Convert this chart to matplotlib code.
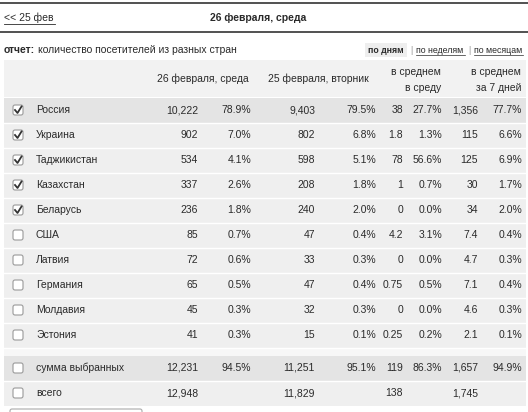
import matplotlib
matplotlib.use("Agg")
import matplotlib.pyplot as plt
from matplotlib.patches import Rectangle, FancyBboxPatch

plt.rcParams['font.family'] = ['Liberation Sans', 'DejaVu Sans']

countries = ["Россия", "Украина", "Таджикистан", "Казахстан", "Беларусь", "США", "Латвия", "Германия", "Молдавия", "Эстония"]
checked = [True, True, True, True, True, False, False, False, False, False]
feb26 = ["10,222", "902", "534", "337", "236", "85", "72", "65", "45", "41"]
feb26_pct = ["78.9%", "7.0%", "4.1%", "2.6%", "1.8%", "0.7%", "0.6%", "0.5%", "0.3%", "0.3%"]
feb25 = ["9,403", "802", "598", "208", "240", "47", "33", "47", "32", "15"]
feb25_pct = ["79.5%", "6.8%", "5.1%", "1.8%", "2.0%", "0.4%", "0.3%", "0.4%", "0.3%", "0.1%"]
avg_wed = ["38", "1.8", "78", "1", "0", "4.2", "0", "0.75", "0", "0.25"]
avg_wed_pct = ["27.7%", "1.3%", "56.6%", "0.7%", "0.0%", "3.1%", "0.0%", "0.5%", "0.0%", "0.2%"]
avg7 = ["1,356", "115", "125", "30", "34", "7.4", "4.7", "7.1", "4.6", "2.1"]
avg7_pct = ["77.7%", "6.6%", "6.9%", "1.7%", "2.0%", "0.4%", "0.3%", "0.4%", "0.3%", "0.1%"]
sum_row = ["сумма выбранных", "12,231", "94.5%", "11,251", "95.1%", "119", "86.3%", "1,657", "94.9%"]
total_row = ["всего", "12,948", "", "11,829", "", "138", "", "1,745", ""]

W, H = 528, 412
fig = plt.figure(figsize=(W/100, H/100), dpi=100)
ax = fig.add_axes([0, 0, 1, 1])
ax.set_xlim(0, W); ax.set_ylim(H, 0); ax.axis('off')

fs = 7.5
tc = '#2a2a2a'
ax.plot([0, W], [3, 3], color='#333333', lw=1.2)
ax.plot([0, W], [32, 32], color='#333333', lw=1.2)
ax.text(4, 18, "<< 25 фев", fontsize=fs, color=tc, va='center')
ax.plot([4, 55], [23.5, 23.5], color=tc, lw=0.6)
ax.text(258, 18, "26 февраля, среда", fontsize=fs, color=tc, va='center', ha='center', fontweight='bold')
ax.text(4, 50, "отчет:", fontsize=fs, color=tc, va='center', fontweight='bold')
ax.text(38, 50, "количество посетителей из разных стран", fontsize=fs, color=tc, va='center')
ax.add_patch(Rectangle((365, 43), 42, 14, color='#eeeeee', lw=0))
ax.text(368, 50, "по дням", fontsize=6.3, color=tc, va='center', fontweight='bold')
ax.text(410, 50, "|", fontsize=6.3, color='#999999', va='center')
ax.text(416, 50, "по неделям", fontsize=6.3, color=tc, va='center')
ax.plot([416, 465], [54.5, 54.5], color=tc, lw=0.5)
ax.text(468, 50, "|", fontsize=6.3, color='#999999', va='center')
ax.text(474, 50, "по месяцам", fontsize=6.3, color=tc, va='center')
ax.plot([474, 523], [54.5, 54.5], color=tc, lw=0.5)

x0, x1 = 4, 526
ax.add_patch(Rectangle((x0, 60), x1-x0, 37, color='#f2f2f2', lw=0))
ax.text(203, 79, "26 февраля, среда", fontsize=fs, color=tc, va='center', ha='center')
ax.text(318, 79, "25 февраля, вторник", fontsize=fs, color=tc, va='center', ha='center')
ax.text(441, 72, "в среднем", fontsize=fs, color=tc, va='center', ha='right')
ax.text(441, 88, "в среду", fontsize=fs, color=tc, va='center', ha='right')
ax.text(521, 72, "в среднем", fontsize=fs, color=tc, va='center', ha='right')
ax.text(521, 88, "за 7 дней", fontsize=fs, color=tc, va='center', ha='right')

colx = [198, 251, 315, 376, 403, 442, 478, 522]

def checkbox(y, on):
    ax.add_patch(FancyBboxPatch((13, y-5), 10, 10, boxstyle="round,pad=0,rounding_size=2",
                                fc='white', ec='#9a9a9a', lw=0.8))
    if on:
        ax.plot([15, 17.5, 21.5], [y, y+3, y-3.5], color='#333333', lw=1.3)

def row(y, h, bg, label, vals, on):
    ax.add_patch(Rectangle((x0, y-h/2), x1-x0, h, color=bg, lw=0))
    checkbox(y, on)
    ax.text(36, y, label, fontsize=fs, color=tc, va='center')
    for x, v in zip(colx, vals):
        ax.text(x, y, v, fontsize=fs, color=tc, va='center', ha='right')

for i, c in enumerate(countries):
    y = 110 + 25*i
    bg = '#e4e4e4' if i == 0 else '#efefef'
    row(y, 25, bg, c, [feb26[i], feb26_pct[i], feb25[i], feb25_pct[i],
                       avg_wed[i], avg_wed_pct[i], avg7[i], avg7_pct[i]], checked[i])
    ax.plot([x0, x1], [y+12.5, y+12.5], color='white', lw=1)

ax.add_patch(Rectangle((x0, 347.5), x1-x0, 8, color='#f7f7f7', lw=0))
row(368, 25, '#e4e4e4', sum_row[0], sum_row[1:], False)
row(393, 25, '#efefef', total_row[0], total_row[1:], False)
ax.plot([x0, x1], [380.5, 380.5], color='white', lw=1)
ax.add_patch(FancyBboxPatch((10, 409), 132, 10, boxstyle="round,pad=0,rounding_size=2",
                            fc='white', ec='#aaaaaa', lw=0.8))

fig.savefig("out.png", dpi=100)
